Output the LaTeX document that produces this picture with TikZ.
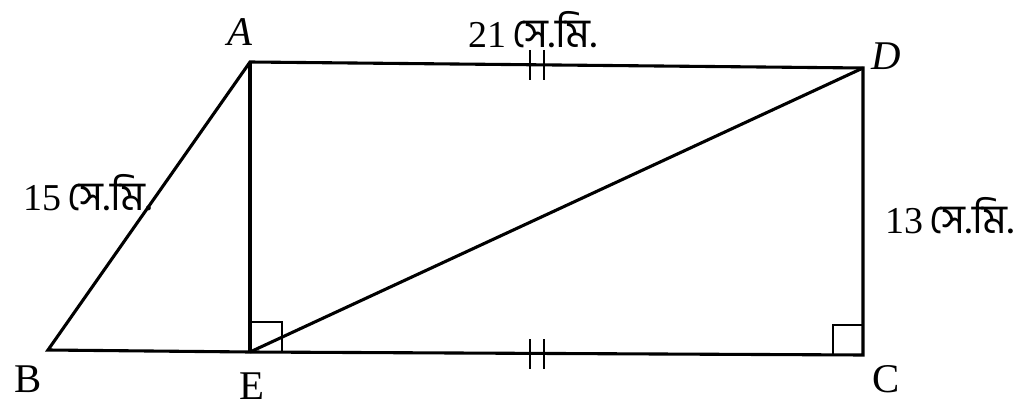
\documentclass[tikz,border=0pt]{standalone}
\usepackage{fontspec}
\setmainfont{Liberation Serif}
\newfontfamily\bnfont[Script=Bengali,Scale=1.08]{Hind Siliguri}
\usetikzlibrary{calc}
\usetikzlibrary{positioning}
\newcommand{\cmlabel}[1]{#1\,{\bnfont সে.মি.}}
\begin{document}
\begin{tikzpicture}[x=0.025cm,y=-0.025cm,line width=2.2pt,
    ptlabel/.style={inner sep=0pt,anchor=center,font=\fontsize{29}{31}\selectfont},
    lenlabel/.style={inner sep=0pt,anchor=center,font=\fontsize{27}{29}\selectfont}]
      \useasboundingbox (0,0) rectangle (1024,412);
      \coordinate (A) at (250,62);
      \coordinate (D) at (863,68);
      \coordinate (B) at (48,350);
      \coordinate (E) at (250,352);
      \coordinate (C) at (863,355);
      % outline and diagonal
      \draw[line join=miter] (A) -- (D) -- (C) -- (E) -- (B) -- cycle;
      \draw (A) -- (E);
      \draw (E) -- (D);
      % right angles
      \draw[line width=1.8pt] (250,322) -- (282,322) -- (282,352);
      \draw[line width=1.8pt] (833,355) -- (833,325) -- (863,325);
      % equal marks
      \draw[line width=1.8pt] (530,50) -- (530,80) (544,50) -- (544,80);
      \draw[line width=1.8pt] (530,339) -- (530,369) (544,339) -- (544,369);
      % labels
      \node[ptlabel] (lA) at (240,32) {\textit{A}};
      \node[ptlabel] (lD) at (886,56) {\textit{D}};
      \node[ptlabel] (lB) at (28,379) {B};
      \node[ptlabel] (lE) at (252,386) {E};
      \node[ptlabel] (lC) at (886,379) {C};
      \node[lenlabel] (lAD) at (533,30) {\cmlabel{21}};
      \node[lenlabel] (lAB) at (88,193) {\cmlabel{15}};
      \node[lenlabel] (lDC) at (950,216) {\cmlabel{13}};
\end{tikzpicture}
\end{document}
